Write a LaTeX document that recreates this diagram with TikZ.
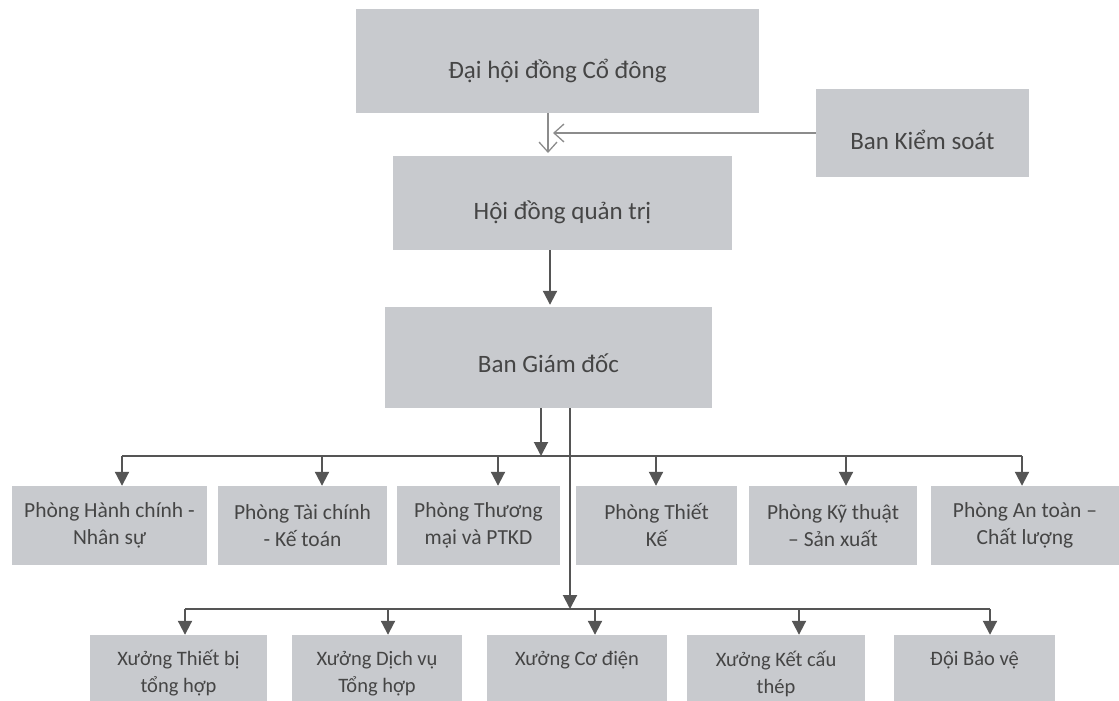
\documentclass[tikz,border=0pt]{standalone}
\usepackage{fontspec}
\setmainfont{Carlito}
\usetikzlibrary{arrows.meta}
\definecolor{boxfill}{HTML}{C8CACE}
\definecolor{txt}{HTML}{454545}
\definecolor{ln}{HTML}{555555}
\definecolor{lnlight}{HTML}{8C8C8C}
\begin{document}
\begin{tikzpicture}[x=1pt,y=-1pt,
  box/.style={fill=boxfill, draw=none, inner sep=0pt},
  lbl/.style={text=txt, align=center, inner sep=0pt},
  big/.style={lbl, font=\fontsize{25}{30}\selectfont},
  mid/.style={lbl, font=\fontsize{21.5}{27}\selectfont},
  sml/.style={lbl, font=\fontsize{20.5}{27}\selectfont},
  conn/.style={draw=ln, line width=2pt},
  arr/.style={conn, -{Triangle[width=14pt,length=14pt]}},
  oarr/.style={draw=lnlight, line width=1.3pt, -{Straight Barb[width=18pt,length=10pt]}}]
\useasboundingbox (0,0) rectangle (1119,701);

% top boxes
\node[box, minimum width=403pt, minimum height=104pt] (b1) at (557.5,61) {};
\node[big] at ([yshift=-10pt]b1.center) {Đại hội đồng Cổ đông};
\node[box, minimum width=213pt, minimum height=88pt] (bks) at (922.5,133) {};
\node[big] at ([yshift=-7pt]bks.center) {Ban Kiểm soát};
\node[box, minimum width=339pt, minimum height=94pt] (b2) at (562.5,203) {};
\node[big] at ([yshift=-9pt]b2.center) {Hội đồng quản trị};
\node[box, minimum width=327pt, minimum height=101pt] (b3) at (548.5,357.5) {};
\node[big] at ([yshift=-6pt]b3.center) {Ban Giám đốc};

% row 1
\node[box, minimum width=195pt, minimum height=79pt] (p1) at (109.5,525.5) {};
\node[mid] at (p1.center) {Phòng Hành chính -\\Nhân sự};
\node[box, minimum width=169pt, minimum height=79pt] (p2) at (302.5,525.5) {};
\node[mid] at (p2.center) {Phòng Tài chính\\- Kế toán};
\node[box, minimum width=163pt, minimum height=79pt] (p3) at (478.5,525.5) {};
\node[mid] at (p3.center) {Phòng Thương\\mại và PTKD};
\node[box, minimum width=161pt, minimum height=79pt] (p4) at (656.5,525.5) {};
\node[mid] at (p4.center) {Phòng Thiết\\Kế};
\node[box, minimum width=168pt, minimum height=79pt] (p5) at (833,525.5) {};
\node[mid] at (p5.center) {Phòng Kỹ thuật\\– Sản xuất};
\node[box, minimum width=188pt, minimum height=79pt] (p6) at (1025,525.5) {};
\node[mid] at (p6.center) {Phòng An toàn –\\Chất lượng};

% row 2
\node[box, minimum width=177pt, minimum height=66pt] (x1) at (178.5,668) {};
\node[sml] at ([yshift=-5.5pt]x1.center) {Xưởng Thiết bị\\tổng hợp};
\node[box, minimum width=170pt, minimum height=66pt] (x2) at (377,668) {};
\node[sml] at ([yshift=-5.5pt]x2.center) {Xưởng Dịch vụ\\Tổng hợp};
\node[box, minimum width=180pt, minimum height=66pt] (x3) at (577,668) {};
\node[sml] at ([yshift=8pt]x3.center) {Xưởng Cơ điện};
\node[box, minimum width=178pt, minimum height=66pt] (x4) at (776,668) {};
\node[sml] at ([yshift=-5.5pt]x4.center) {Xưởng Kết cấu\\thép};
\node[box, minimum width=161pt, minimum height=66pt] (x5) at (974.5,668) {};
\node[sml] at ([yshift=8pt]x5.center) {Đội Bảo vệ};

% top connectors
\coordinate (a1) at (548,153);
\draw[oarr] (a1 |- b1.south) -- (a1);
\coordinate (a2) at (553,132);
\draw[oarr] (bks.west) -- (a2 |- bks.west);
\coordinate (a3) at (550,300);
\draw[arr] (b2.south -| a3) -- ([yshift=2pt]b3.north -| a3);

% bus 1
\coordinate (j1) at (541,456);
\draw[arr] (b3.south -| j1) -- (j1);
\coordinate (d1) at (122,456);
\coordinate (d2) at (322,456);
\coordinate (d3) at (498,456);
\coordinate (d4) at (656,456);
\coordinate (d5) at (846,456);
\coordinate (d6) at (1022,456);
\draw[conn] (d1) -- (d6);
\draw[arr] (d1) -- (d1 |- p1.north);
\draw[arr] (d2) -- (d2 |- p2.north);
\draw[arr] (d3) -- (d3 |- p3.north);
\draw[arr] (d4) -- (d4 |- p4.north);
\draw[arr] (d5) -- (d5 |- p5.north);
\draw[arr] (d6) -- (d6 |- p6.north);

% bus 2
\coordinate (m) at (570,609);
\draw[arr] (b3.south -| m) -- (m);
\coordinate (e1) at (185,609);
\coordinate (e2) at (388,609);
\coordinate (e3) at (595,609);
\coordinate (e4) at (799,609);
\coordinate (e5) at (990,609);
\draw[conn] (e1) -- (e5);
\draw[arr] (e1) -- (e1 |- x1.north);
\draw[arr] (e2) -- (e2 |- x2.north);
\draw[arr] (e3) -- (e3 |- x3.north);
\draw[arr] (e4) -- (e4 |- x4.north);
\draw[arr] (e5) -- (e5 |- x5.north);
\end{tikzpicture}
\end{document}
